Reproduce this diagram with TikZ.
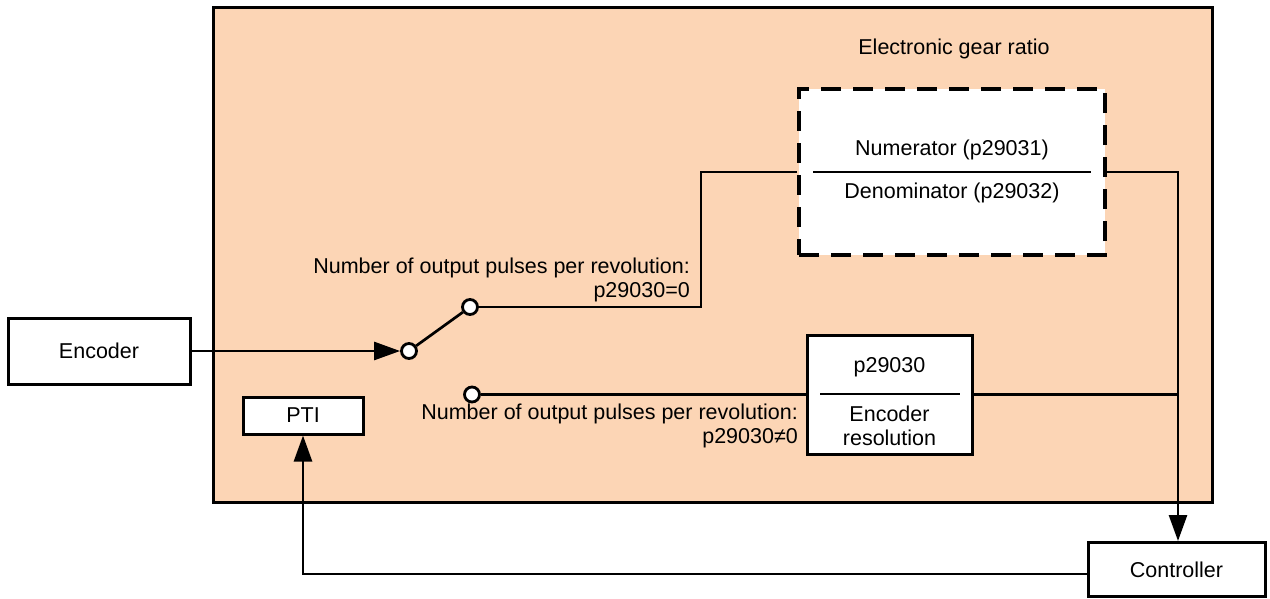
\documentclass[tikz,border=0pt]{standalone}
\usepackage{fontspec}
\setmainfont{Liberation Sans}
\usetikzlibrary{arrows.meta,calc}
\definecolor{peach}{RGB}{252,213,181}
\begin{document}
\begin{tikzpicture}[x=1pt,y=-1pt,
  box/.style={draw,line width=3pt,fill=white,inner sep=0pt},
  conn/.style={line width=2.7pt},
  arr/.style={conn,-{Triangle[length=26pt,width=18pt]}},
  term/.style={circle,draw,line width=2.8pt,fill=white,minimum size=15pt,inner sep=0pt},
  lbl/.style={inner sep=0pt,align=right,anchor=east},
  txt/.style={inner sep=0pt},
  font=\fontsize{21.5}{24}\selectfont]
\useasboundingbox (0,0) rectangle (1270,598);
% main frame
\node[draw,fill=peach,line width=3pt,minimum width=999pt,minimum height=495pt,inner sep=0pt] (main) at (712.5,254.5) {};
\node[txt] (title) at (954,49) {Electronic gear ratio};
% boxes
\node[box,minimum width=182pt,minimum height=66pt] (enc) at (99,351) {Encoder};
\node[box,minimum width=177pt,minimum height=54pt] (ctrl) at (1176.5,569.5) {Controller};
\node[box,minimum width=120pt,minimum height=37pt] (pti) at (303,415.5) {PTI};
\node[box,dash pattern=on 20pt off 12pt,line width=3.2pt,minimum width=306pt,minimum height=166pt] (gear) at (952,172) {};
\node[box,minimum width=165pt,minimum height=119pt] (res) at (889.5,394.5) {};
% fraction in gear box
\node[txt] (num) at (952,150) {Numerator (p29031)};
\node[txt] (den) at (952,193) {Denominator (p29032)};
\coordinate (fl1) at (813,172);
\coordinate (fl2) at (1091,172);
\draw[conn] (fl1) -- (fl2);
% resolution box contents
\node[txt] (rp) at (889.5,367) {p29030};
\node[txt,align=center] (rr) at (889.5,425.5) {Encoder\\resolution};
\coordinate (rl1) at (820,394);
\coordinate (rl2) at (960,394);
\draw[conn] (rl1) -- (rl2);
% switch terminals
\node[term] (sw) at (409,351) {};
\node[term] (up) at (470,307) {};
\node[term] (lo) at (472,394.5) {};
% labels
\node[lbl] (lup) at (690,280) {Number of output pulses per revolution:\\p29030=0};
\node[lbl] (llo) at (798,426) {Number of output pulses per revolution:\\p29030≠0};
% connectors
\coordinate (b1) at (701,307);
\coordinate (j1) at (1178,172);
\coordinate (j2) at (1178,394.5);
\coordinate (cw) at ($(ctrl.west)+(0,4.5)$);
\coordinate (b2) at (303,574);
\draw[arr] (enc) -- (sw);
\draw[conn] (sw) -- (up);
\draw[conn] (up) -- (b1) |- (gear.west);
\draw[arr] (gear.east) -- (j1) -- (j1 |- ctrl.north);
\draw[conn] (lo) -- (res.west);
\draw[conn] (res.east) -- (j2);
\draw[arr] (cw) -- (b2) -- (pti.south);
\end{tikzpicture}
\end{document}
